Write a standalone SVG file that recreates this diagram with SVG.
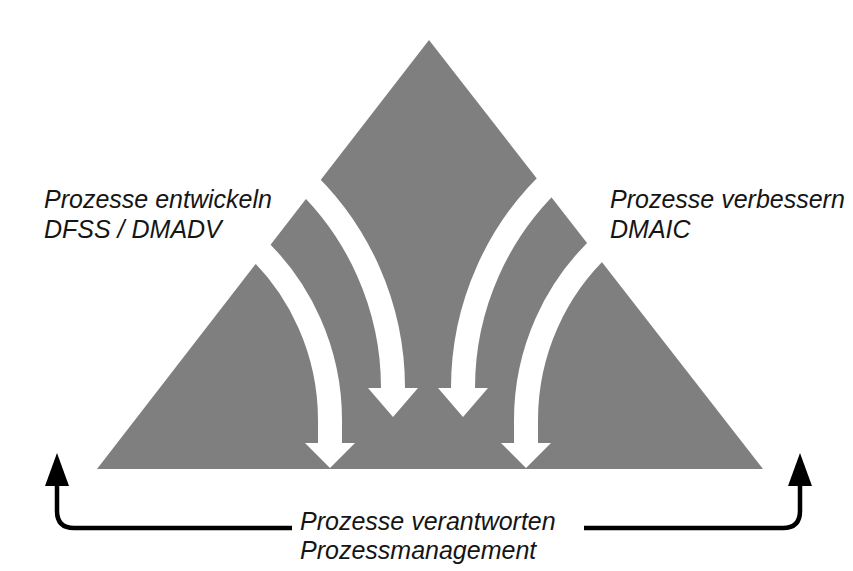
<svg xmlns="http://www.w3.org/2000/svg" width="853" height="571" viewBox="0 0 853 571">
<style>
.band{fill:none;stroke:#ffffff;stroke-width:24}
.head{fill:#ffffff}
.lbl{font-family:"Liberation Sans",Arial,sans-serif;font-style:italic;font-size:25px;fill:#151515}
.conn{fill:none;stroke:#000000;stroke-width:4.5}
.ahead{fill:#000000}
</style>
<rect width="853" height="571" fill="#ffffff"/>
<g id="triangle">
<polygon points="429,40 763,469 97,469" fill="#7f7f7f"/>
</g>
<g id="arrow-develop-inner">
<path class="band" d="M297.9,174.3 A287.5 287.5 0 0 1 393,388 L393,390"/>
<polygon class="head" points="368,388 418,388 393,417"/>
</g>
<g id="arrow-improve-inner">
<path class="band" d="M558.1,174.3 A287.5 287.5 0 0 0 463,388 L463,390"/>
<polygon class="head" points="438,388 488,388 463,417"/>
</g>
<g id="arrow-develop-outer">
<path class="band" d="M250.9,242.4 A239 239 0 0 1 330,420 L330,445"/>
<polygon class="head" points="305,443 355,443 330,468"/>
</g>
<g id="arrow-improve-outer">
<path class="band" d="M605.1,242.4 A239 239 0 0 0 526,420 L526,445"/>
<polygon class="head" points="501,443 551,443 526,468"/>
</g>
<g id="label-develop">
<text class="lbl" x="44" y="208">Prozesse entwickeln</text>
<text class="lbl" x="44" y="238">DFSS / DMADV</text>
</g>
<g id="label-improve">
<text class="lbl" x="610" y="208">Prozesse verbessern</text>
<text class="lbl" x="610" y="238">DMAIC</text>
</g>
<g id="label-manage">
<text class="lbl" x="300" y="530">Prozesse verantworten</text>
<text class="lbl" x="300" y="559">Prozessmanagement</text>
</g>
<g id="connectors">
<path class="conn" d="M57,484 L57,511 Q57,528 74,528 L292,528"/>
<polygon class="ahead" points="57,453 45,486 69,486"/>
<path class="conn" d="M584,528 L783,528 Q800,528 800,511 L800,484"/>
<polygon class="ahead" points="800,453 788,486 812,486"/>
</g>
</svg>
